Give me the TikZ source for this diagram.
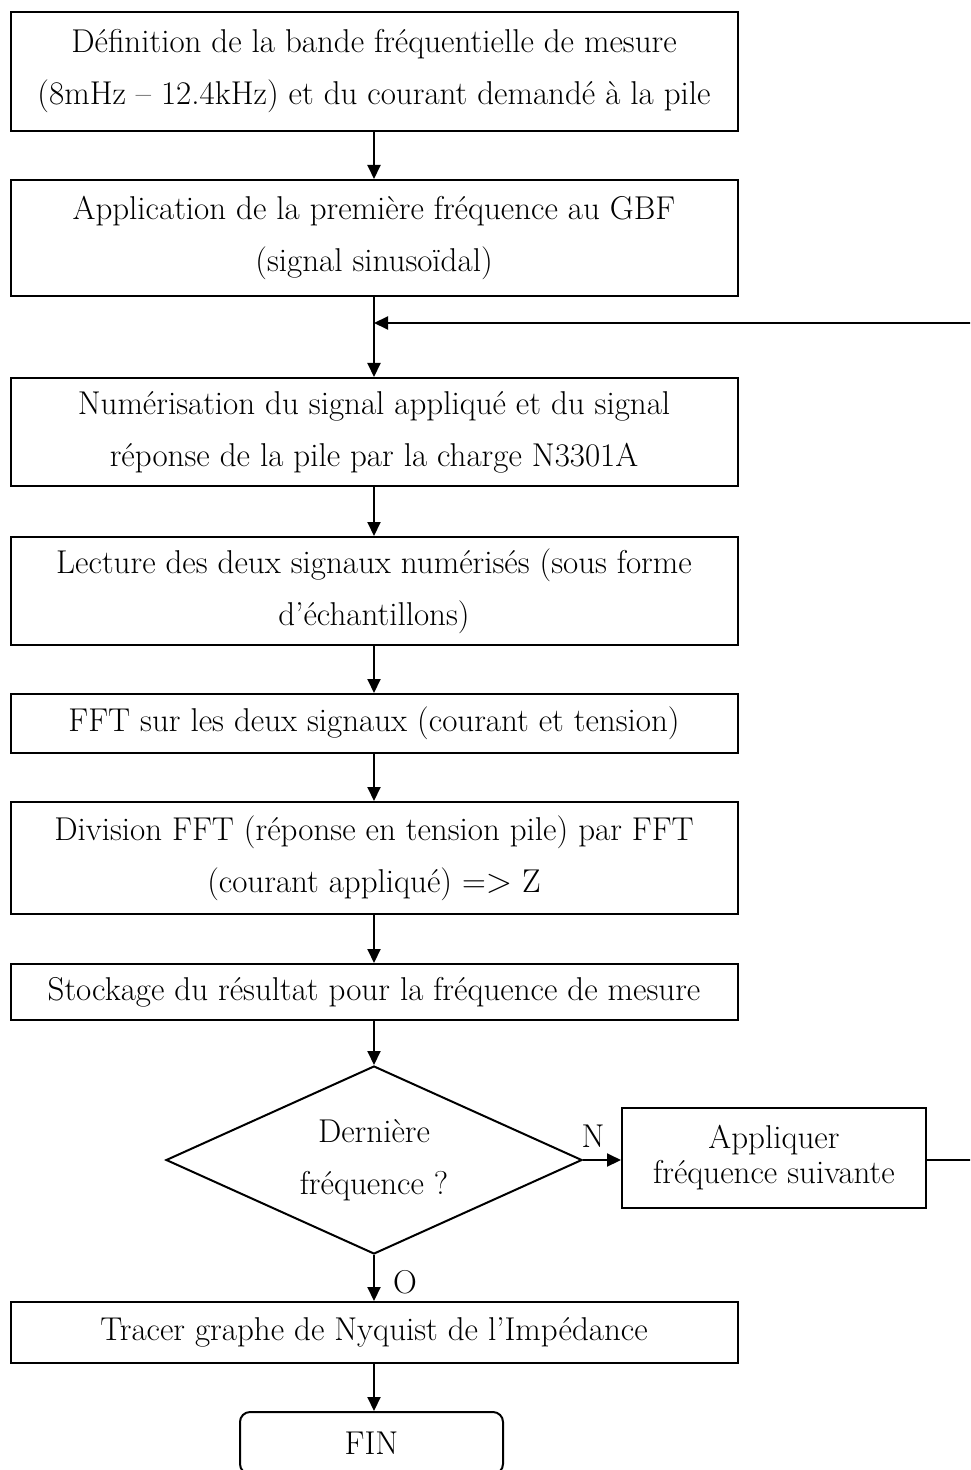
\documentclass[tikz,border=0pt]{standalone}
\usetikzlibrary{shapes.geometric,arrows.meta,calc}
\begin{document}
\begin{tikzpicture}[x=0.5pt,y=-0.5pt,
  every node/.style={font=\fontsize{16.5}{26}\selectfont},
  box/.style={draw,line width=1pt,minimum width=363.5pt,inner sep=0pt,align=center},
  dec/.style={draw,line width=1pt,diamond,aspect=2.2,minimum width=208pt,minimum height=94pt,inner sep=0pt,align=center},
  arr/.style={line width=1pt,-{Triangle[length=7pt,width=6.5pt]}},
  lin/.style={line width=1pt}]
\useasboundingbox (0,0) rectangle (970,1470);
\clip (0,0) rectangle (970,1470);
\node[box,minimum height=59.5pt] (b1) at (374,71.5) {D\'efinition de la bande fr\'equentielle de mesure\\(8mHz -- 12.4kHz) et du courant demand\'e \`a la pile};
\node[box,minimum height=58pt] (b2) at (374,238) {Application de la premi\`ere fr\'equence au GBF\\(signal sinuso\"idal)};
\node[box,minimum height=54pt] (b3) at (374,432) {Num\'erisation du signal appliqu\'e et du signal\\r\'eponse de la pile par la charge N3301A};
\node[box,minimum height=54pt] (b4) at (374,591) {Lecture des deux signaux num\'eris\'es (sous forme\\d'\'echantillons)};
\node[box,minimum height=29.5pt] (b5) at (374,723.5) {FFT sur les deux signaux (courant et tension)};
\node[box,minimum height=56pt] (b6) at (374,858) {Division FFT (r\'eponse en tension pile) par FFT\\(courant appliqu\'e) =$>$ Z};
\node[box,minimum height=28pt] (b7) at (374,992) {Stockage du r\'esultat pour la fr\'equence de mesure};
\node[dec] (d) at (374,1160) {Derni\`ere\\fr\'equence ?};
\node[box,minimum width=152pt,minimum height=50pt,font=\fontsize{16.5}{17.5}\selectfont] (app) at (774,1158) {Appliquer\\fr\'equence suivante};
\node[box,minimum height=30.5pt] (tr) at (374,1332.5) {Tracer graphe de Nyquist de l'Imp\'edance};
\node[box,minimum width=131.5pt,minimum height=31pt,rounded corners=5pt] (fin) at (371.5,1443) {FIN};
\node (n) at (593,1136) {N};
\node (o) at (405,1282) {O};
\coordinate (j) at (374,323);
\coordinate (r) at (973,323);
\draw[arr] (b1) -- (b2);
\draw[arr] (b2) -- (b3);
\draw[arr] (b3) -- (b4);
\draw[arr] (b4) -- (b5);
\draw[arr] (b5) -- (b6);
\draw[arr] (b6) -- (b7);
\draw[arr] (b7) -- (d);
\draw[arr] (d.east) -- (d.east -| app.west);
\draw[arr] (d.south) -- (tr.north);
\draw[arr] (tr.south) -- (tr.south |- fin.north);
\draw[lin] (app.east |- d.east) -| (r);
\draw[arr] (r) -- (j);
\end{tikzpicture}
\end{document}
